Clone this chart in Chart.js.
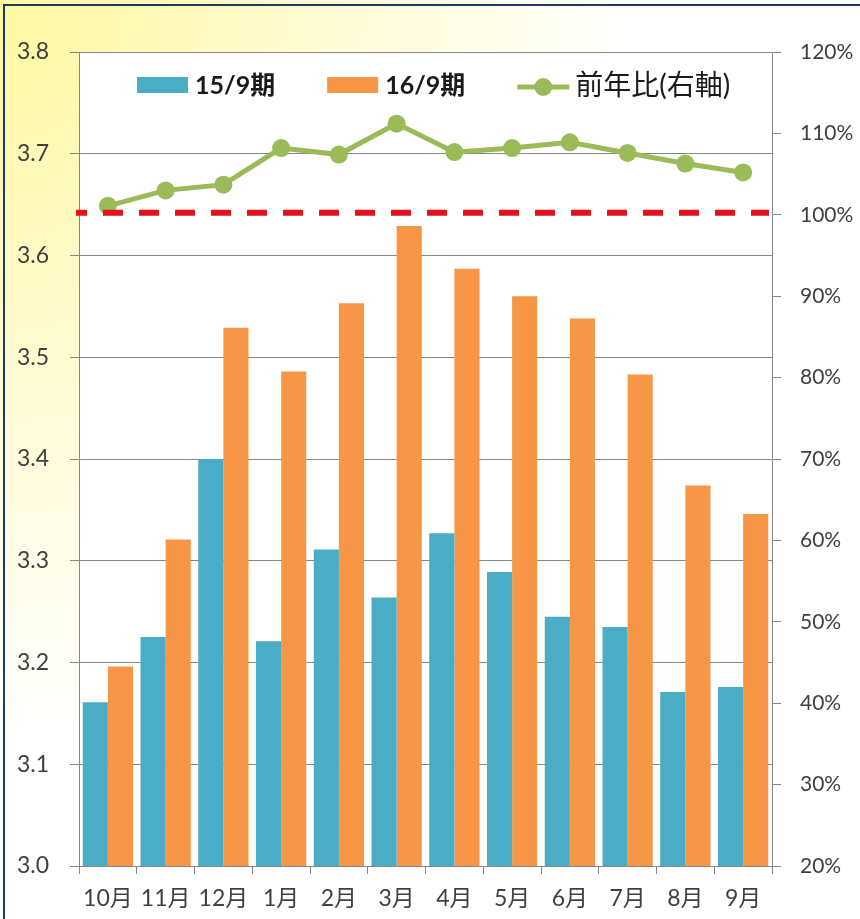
<!DOCTYPE html>
<html>
<head>
<meta charset="utf-8">
<script src="https://cdn.jsdelivr.net/npm/chart.js@4"></script>
<style>
  html, body { margin: 0; padding: 0; background: #ffffff; }
  #wrap { position: relative; width: 860px; height: 919px; }
</style>
</head>
<body>
<div id="wrap"><canvas id="chart" width="860" height="919"></canvas></div>
<script>
// データ
const months = ["10月", "11月", "12月", "1月", "2月", "3月", "4月", "5月", "6月", "7月", "8月", "9月"];
const prevYear = [3.161, 3.225, 3.400, 3.221, 3.311, 3.264, 3.327, 3.289, 3.245, 3.235, 3.171, 3.176]; // 15/9期
const thisYear = [3.196, 3.321, 3.529, 3.486, 3.553, 3.629, 3.587, 3.560, 3.538, 3.483, 3.374, 3.346]; // 16/9期
const ratio = [101.1, 103.0, 103.7, 108.2, 107.4, 111.2, 107.7, 108.2, 108.9, 107.6, 106.3, 105.2]; // 前年比(%)
const seriesNames = ["15/9期", "16/9期", "前年比(右軸)"];
const baseLine = 100; // 赤い点線 (右軸)

const FONT = "Lato, 'Noto Sans CJK JP', sans-serif";
const gridColor = "#868686";
const textColor = "#404040";

// 背景と枠
const backgroundPlugin = {
    id: "background",
    beforeDraw(chart) {
        let ctx = chart.ctx;
        ctx.save();
        ctx.scale(1, 1.15);
        let g = ctx.createRadialGradient(0, 0, 0, 0, 0, 800);
        g.addColorStop(0, "#fff8a0");
        g.addColorStop(0.35, "#fffbcc");
        g.addColorStop(0.8, "#ffffff");
        ctx.fillStyle = g;
        ctx.fillRect(0, 0, chart.width, chart.height);
        ctx.restore();

        let a = chart.chartArea;
        ctx.save();
        ctx.fillStyle = "#ffffff";
        ctx.fillRect(a.left, a.top, a.right - a.left, a.bottom - a.top);
        ctx.strokeStyle = "#1f3864";
        ctx.lineWidth = 2;
        ctx.beginPath();
        ctx.moveTo(4, chart.height);
        ctx.lineTo(4, 5);
        ctx.lineTo(chart.width, 5);
        ctx.stroke();
        ctx.restore();
    }
};

// 100% の赤い点線
const baseLinePlugin = {
    id: "baseLine",
    afterDatasetsDraw(chart) {
        let ctx = chart.ctx;
        let a = chart.chartArea;
        let y = chart.scales.y1.getPixelForValue(baseLine) - 2;
        ctx.save();
        ctx.strokeStyle = "#e3111b";
        ctx.lineWidth = 6;
        ctx.setLineDash([20, 16]);
        ctx.lineDashOffset = 9;
        ctx.beginPath();
        ctx.moveTo(a.left - 3, y);
        ctx.lineTo(a.right - 3, y);
        ctx.stroke();
        ctx.restore();
    }
};

// 凡例 (グラフ内) 棒 → 線 の順
const legendPlugin = {
    id: "innerLegend",
    afterDraw(chart) {
        let ctx = chart.ctx;
        let x = chart.chartArea.left + 58;
        let y = chart.chartArea.top + 33;
        let items = seriesNames.map(n => chart.data.datasets.find(d => d.label === n));
        ctx.save();
        ctx.textBaseline = "middle";
        items.forEach(ds => {
            if (ds.type === "line") {
                ctx.strokeStyle = ds.borderColor;
                ctx.lineWidth = 5;
                ctx.beginPath();
                ctx.moveTo(x, y + 2);
                ctx.lineTo(x + 52, y + 2);
                ctx.stroke();
                ctx.fillStyle = ds.borderColor;
                ctx.beginPath();
                ctx.arc(x + 26, y + 2, 9, 0, Math.PI * 2);
                ctx.fill();
                ctx.font = "28px " + FONT;
            } else {
                ctx.fillStyle = ds.backgroundColor;
                ctx.fillRect(x, y - 8, 51, 16);
                ctx.font = "bold 25px " + FONT;
            }
            x += 58;
            ctx.fillStyle = "#1a1a1a";
            ctx.fillText(ds.label, x, y + 1);
            x += ctx.measureText(ds.label).width + 52;
        });
        ctx.restore();
    }
};

let ctx = document.getElementById("chart").getContext("2d");
let chart = new Chart(ctx, {
    data: {
        labels: months,
        datasets: [
            {
                type: "line",
                label: seriesNames[2],
                data: ratio,
                yAxisID: "y1",
                borderColor: "#9bbb59",
                backgroundColor: "#9bbb59",
                borderWidth: 5,
                pointRadius: 9,
                pointBorderWidth: 0,
                pointBackgroundColor: "#9bbb59",
                order: 0
            },
            {
                type: "bar",
                label: seriesNames[0],
                data: prevYear,
                yAxisID: "y",
                backgroundColor: "#4bacc6",
                categoryPercentage: 0.87,
                barPercentage: 1.0,
                order: 1
            },
            {
                type: "bar",
                label: seriesNames[1],
                data: thisYear,
                yAxisID: "y",
                backgroundColor: "#f79646",
                categoryPercentage: 0.87,
                barPercentage: 1.0,
                order: 1
            }
        ]
    },
    options: {
        responsive: false,
        animation: false,
        devicePixelRatio: 1,
        layout: { padding: { top: 52, left: 0, right: 0, bottom: 0 } },
        plugins: {
            legend: { display: false },
            tooltip: { enabled: false }
        },
        scales: {
            x: {
                offset: true,
                grid: { drawOnChartArea: false, tickLength: 8, color: gridColor, offset: true },
                border: { color: gridColor },
                ticks: { font: { family: FONT, size: 23 }, color: textColor, padding: 11, maxRotation: 0 },
                afterFit: s => { s.height = 53; }
            },
            y: {
                position: "left",
                min: 3.0,
                max: 3.8,
                grid: { color: gridColor, tickLength: 9 },
                border: { color: gridColor },
                ticks: {
                    stepSize: 0.1,
                    font: { family: FONT, size: 23 },
                    color: textColor,
                    padding: 21,
                    callback: v => v.toFixed(1)
                },
                afterFit: s => { s.width = 79; }
            },
            y1: {
                position: "right",
                min: 20,
                max: 120,
                grid: { drawOnChartArea: false, color: gridColor, tickLength: 9 },
                border: { color: gridColor },
                ticks: {
                    stepSize: 10,
                    font: { family: FONT, size: 21 },
                    color: textColor,
                    padding: 19,
                    callback: v => v + "%"
                },
                afterFit: s => { s.width = 88; }
            }
        }
    },
    plugins: [backgroundPlugin, baseLinePlugin, legendPlugin]
});
</script>
</body>
</html>
